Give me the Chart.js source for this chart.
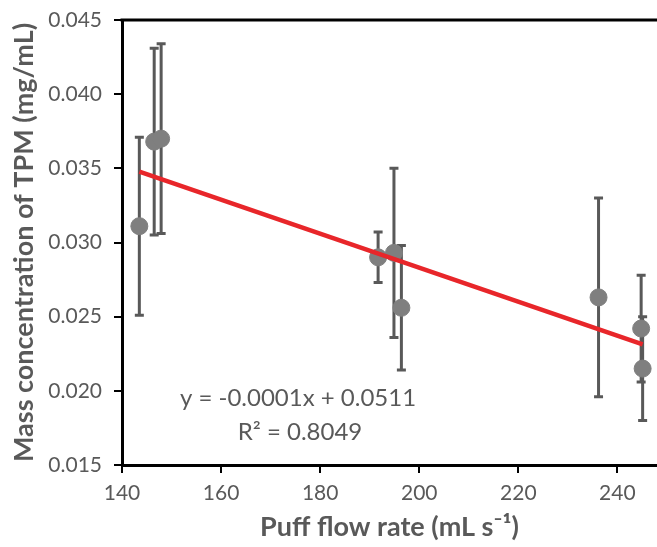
<!DOCTYPE html>
<html>
<head>
<meta charset="utf-8">
<script src="https://cdn.jsdelivr.net/npm/chart.js@4.4.1/dist/chart.umd.min.js"></script>
<style>
  html, body { margin: 0; padding: 0; background: #fff; }
  #wrap { width: 657px; height: 547px; }
</style>
</head>
<body>
<div id="wrap"><canvas id="c" width="657" height="547"></canvas></div>
<script>
// values
const flowRate = [143.5, 146.5, 147.9, 191.7, 194.9, 196.4, 236.2, 244.8, 245.1];
const tpmConc = [0.0311, 0.0368, 0.0370, 0.0290, 0.0293, 0.0256, 0.0263, 0.0242, 0.0215];
const tpmErr = [0.0060, 0.0063, 0.0064, 0.0017, 0.0057, 0.0042, 0.0067, 0.0036, 0.0035];
const xTicks = [140, 160, 180, 200, 220, 240];
const yTicks = [0.015, 0.020, 0.025, 0.030, 0.035, 0.040, 0.045];
const eqLines = ['y = -0.0001x + 0.0511', 'R\u00b2 = 0.8049'];

const GREY_TXT = '#595959';
const FONT = 'Lato, "Liberation Sans", sans-serif';

// linear least squares fit for the trendline
const n = flowRate.length;
const mx = flowRate.reduce((a, b) => a + b, 0) / n;
const my = tpmConc.reduce((a, b) => a + b, 0) / n;
let sxy = 0, sxx = 0;
flowRate.forEach((x, i) => { sxy += (x - mx) * (tpmConc[i] - my); sxx += (x - mx) * (x - mx); });
const slope = sxy / sxx;
const icpt = my - slope * mx;
const xMin = Math.min(...flowRate), xMax = Math.max(...flowRate);
const trend = [{ x: xMin, y: icpt + slope * xMin }, { x: xMax, y: icpt + slope * xMax }];

const points = flowRate.map((x, i) => ({ x: x, y: tpmConc[i] }));

// error bars + top frame line + equation text
const extras = {
  id: 'extras',
  beforeDatasetsDraw(chart) {
    const { ctx, scales: { x, y } } = chart;
    ctx.save();
    ctx.strokeStyle = '#595959';
    ctx.lineWidth = 3;
    points.forEach((p, i) => {
      const px = x.getPixelForValue(p.x);
      const top = y.getPixelForValue(p.y + tpmErr[i]);
      const bot = y.getPixelForValue(p.y - tpmErr[i]);
      ctx.beginPath();
      ctx.moveTo(px, top); ctx.lineTo(px, bot);
      ctx.moveTo(px - 4.5, top); ctx.lineTo(px + 4.5, top);
      ctx.moveTo(px - 4.5, bot); ctx.lineTo(px + 4.5, bot);
      ctx.stroke();
    });
    ctx.restore();
  },
  afterDraw(chart) {
    const { ctx, chartArea } = chart;
    ctx.save();
    ctx.strokeStyle = '#000';
    ctx.lineWidth = 3;
    ctx.beginPath();
    ctx.moveTo(chartArea.left - 1.5, chartArea.top);
    ctx.lineTo(chartArea.right, chartArea.top);
    ctx.stroke();

    ctx.fillStyle = GREY_TXT;
    ctx.font = '24px ' + FONT;
    ctx.textAlign = 'center';
    ctx.textBaseline = 'middle';
    ctx.fillText(eqLines[0], 298, 398);
    ctx.fillText(eqLines[1], 300, 432);
    ctx.restore();
  }
};

new Chart(document.getElementById('c'), {
  type: 'scatter',
  data: {
    datasets: [
      {
        type: 'line',
        label: 'Trend',
        data: trend,
        borderColor: '#e8262a',
        borderWidth: 4.5,
        pointRadius: 0,
        fill: false,
        order: 0
      },
      {
        label: 'TPM',
        data: points,
        backgroundColor: '#7f7f7f',
        borderColor: '#7f7f7f',
        pointRadius: 8.5,
        pointHoverRadius: 8.5,
        order: 1
      }
    ]
  },
  options: {
    responsive: false,
    animation: false,
    layout: { autoPadding: false, padding: { top: 20, right: 0, left: 0, bottom: 0 } },
    plugins: {
      legend: { display: false },
      tooltip: { enabled: false }
    },
    scales: {
      x: {
        type: 'linear',
        min: 140,
        max: 248,
        afterBuildTicks: (axis) => { axis.ticks = xTicks.map(v => ({ value: v })); },
        afterFit: (axis) => { axis.height = 82; axis.paddingRight = 0; axis.paddingLeft = 0; },
        border: { color: '#000', width: 3 },
        grid: { drawOnChartArea: false, color: '#000', lineWidth: 2, tickLength: 8 },
        ticks: { color: GREY_TXT, font: { family: FONT, size: 21 }, padding: 8, maxRotation: 0 },
        title: {
          display: true,
          text: 'Puff flow rate (mL s\u207b\u00b9)',
          color: GREY_TXT,
          font: { family: FONT, size: 27, weight: 'bold' },
          padding: { top: 0 }
        }
      },
      y: {
        type: 'linear',
        min: 0.015,
        max: 0.045,
        afterBuildTicks: (axis) => { axis.ticks = yTicks.map(v => ({ value: v })); },
        afterFit: (axis) => { axis.width = 122; axis.paddingTop = 0; axis.paddingBottom = 0; },
        border: { color: '#000', width: 3 },
        grid: { drawOnChartArea: false, color: '#000', lineWidth: 2, tickLength: 8 },
        ticks: {
          color: GREY_TXT,
          font: { family: FONT, size: 21 },
          padding: 12,
          callback: (v) => v.toFixed(3)
        },
        title: {
          display: true,
          text: 'Mass concentration of TPM (mg/mL)',
          color: GREY_TXT,
          font: { family: FONT, size: 27, weight: 'bold' },
          padding: { bottom: 0, top: 8 }
        }
      }
    }
  },
  plugins: [extras]
});
</script>
</body>
</html>
